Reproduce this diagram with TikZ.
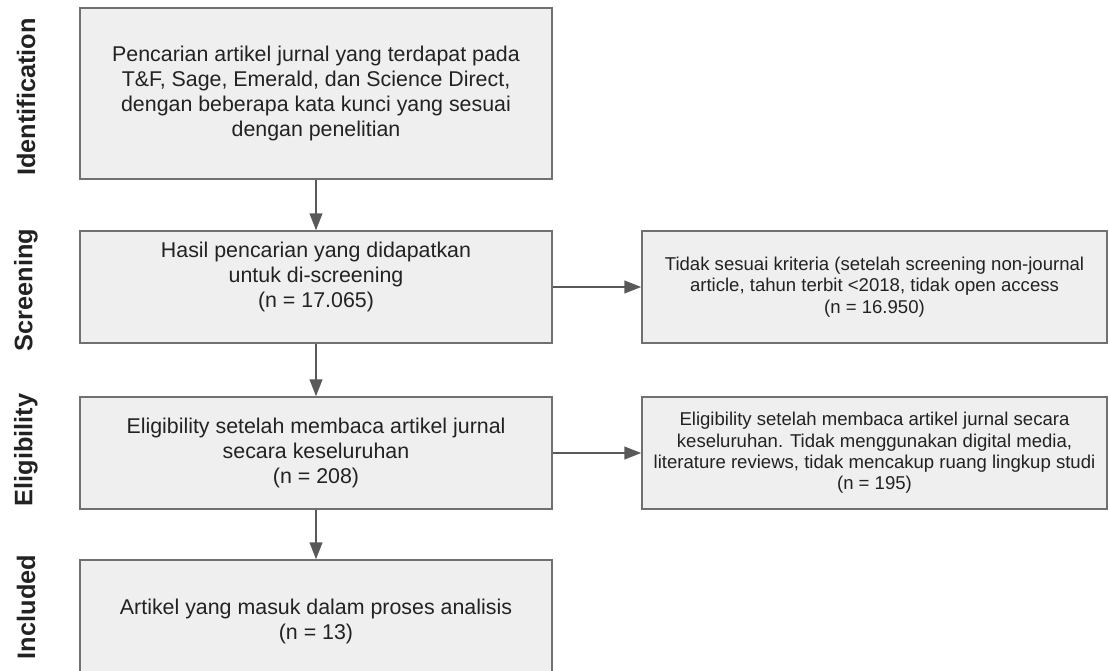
\documentclass[tikz,border=0pt]{standalone}
\usepackage{fontspec}
\setmainfont{Liberation Sans}
\usepackage{tikz}
\usetikzlibrary{positioning,arrows.meta}
\definecolor{boxfill}{HTML}{EFEFEF}
\definecolor{boxline}{HTML}{707070}
\definecolor{arrowgray}{HTML}{595959}
\definecolor{txt}{HTML}{222222}

\begin{document}
\begin{tikzpicture}[x=0.025cm, y=-0.025cm,
  mainbox/.style={draw=boxline, line width=1pt, fill=boxfill, minimum width=11.8cm, align=center, text=txt, font=\fontsize{15.2}{17.8}\selectfont},
  sidebox/.style={draw=boxline, line width=1pt, fill=boxfill, minimum width=11.625cm, minimum height=2.8cm, align=center, text=txt, font=\fontsize{13.2}{15.2}\selectfont},
  phase/.style={rotate=90, text=txt, font=\fontsize{18}{20}\selectfont\bfseries},
  flow/.style={line width=1.4pt, draw=arrowgray, -{Triangle[length=12pt, width=9pt]}}]
\useasboundingbox (0,0) rectangle (1110,670);

% Phase labels
\node[phase] (lid) at (26,97) {Identification};
\node[phase] (lsc) at (26,290) {Screening};
\node[phase] (lel) at (26,450) {Eligibility};
\node[phase] (lin) at (26,607) {Included};

% Main flow
\node[mainbox, minimum height=4.275cm] (A) at (316,93.5) {Pencarian artikel jurnal yang terdapat pada\\T\&F, Sage, Emerald, dan Science Direct,\\dengan beberapa kata kunci yang sesuai\\dengan penelitian};
\node[mainbox, minimum height=2.8cm, text depth=17pt] (B) at (316,287) {Hasil pencarian yang didapatkan\\untuk di-screening\\(n = 17.065)};
\node[mainbox, minimum height=2.8cm] (C) at (316,453) {Eligibility setelah membaca artikel jurnal\\secara keseluruhan\\(n = 208)};
\node[mainbox, minimum height=3.05cm] (D) at (316,621) {Artikel yang masuk dalam proses analisis\\(n = 13)};

% Excluded
\node[sidebox] (E) at (874.5,287) {Tidak sesuai kriteria (setelah screening non-journal\\article, tahun terbit <2018, tidak open access\\(n = 16.950)};
\node[sidebox] (F) at (874.5,453) {Eligibility setelah membaca artikel jurnal secara\\keseluruhan. Tidak menggunakan digital media,\\literature reviews, tidak mencakup ruang lingkup studi\\(n = 195)};

% Arrows
\draw [flow] (A.south) -- (B.north);
\draw [flow] (B.south) -- (C.north);
\draw [flow] (C.south) -- (D.north);
\draw [flow] (B.east) -- (E.west);
\draw [flow] (C.east) -- (F.west);

\end{tikzpicture}
\end{document}
